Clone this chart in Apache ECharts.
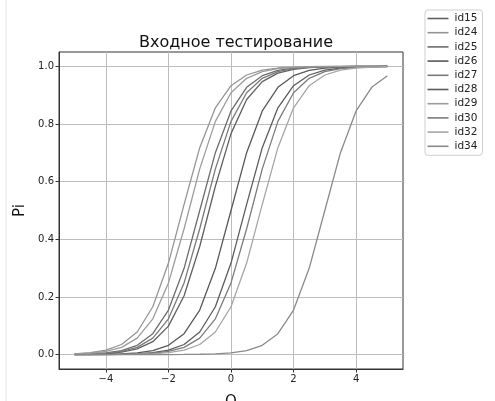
<!DOCTYPE html>
<html>
<head>
<meta charset="utf-8">
<script src="https://cdn.jsdelivr.net/npm/echarts@6/dist/echarts.min.js"></script>
<style>
html,body{margin:0;padding:0;background:#fff;}
#c{width:495px;height:401px;}
</style>
</head>
<body>
<div id="c"></div>
<script>
const theta = [-5,-4.5,-4,-3.5,-3,-2.5,-2,-1.5,-1,-0.5,0,0.5,1,1.5,2,2.5,3,3.5,4,4.5,5];
const seriesNames = ['id15','id24','id25','id26','id27','id28','id29','id30','id32','id34'];
const id15 = [0.0007,0.0016,0.0036,0.0085,0.0196,0.0448,0.0989,0.2043,0.3752,0.5842,0.7667,0.8850,0.9473,0.9768,0.9900,0.9957,0.9981,0.9992,0.9997,0.9999,1.0];
const id24 = [0.0028,0.0066,0.0153,0.0350,0.0783,0.1659,0.3176,0.5212,0.7181,0.8563,0.9331,0.9702,0.9871,0.9944,0.9976,0.9990,0.9996,0.9998,0.9999,1.0,1.0];
const id25 = [0.0011,0.0026,0.0061,0.0141,0.0323,0.0724,0.1545,0.2994,0.5,0.7006,0.8455,0.9276,0.9677,0.9859,0.9939,0.9974,0.9989,0.9995,0.9998,0.9999,1.0];
const id26 = [0.0002,0.0005,0.0011,0.0026,0.0061,0.0141,0.0323,0.0724,0.1545,0.2994,0.5,0.7006,0.8455,0.9276,0.9677,0.9859,0.9939,0.9974,0.9989,0.9995,0.9998];
const id27 = [0.0009,0.0020,0.0047,0.0109,0.0252,0.0570,0.1240,0.2488,0.4366,0.6445,0.8093,0.9084,0.9587,0.9819,0.9922,0.9967,0.9986,0.9994,0.9997,0.9999,1.0];
const id28 = [0.0001,0.0002,0.0005,0.0012,0.0028,0.0066,0.0153,0.0350,0.0783,0.1659,0.3176,0.5212,0.7181,0.8563,0.9331,0.9702,0.9871,0.9944,0.9976,0.9990,0.9996];
const id29 = [0.0020,0.0047,0.0109,0.0252,0.0570,0.1240,0.2488,0.4366,0.6445,0.8093,0.9084,0.9587,0.9819,0.9922,0.9967,0.9986,0.9994,0.9997,0.9999,1.0,1.0];
const id30 = [0.0001,0.0002,0.0004,0.0009,0.0020,0.0047,0.0109,0.0252,0.0570,0.1240,0.2488,0.4366,0.6445,0.8093,0.9084,0.9587,0.9819,0.9922,0.9967,0.9986,0.9994];
const id32 = [0.0,0.0001,0.0002,0.0005,0.0012,0.0028,0.0066,0.0153,0.0350,0.0783,0.1659,0.3176,0.5212,0.7181,0.8563,0.9331,0.9702,0.9871,0.9944,0.9976,0.9990];
const id34 = [0.0,0.0,0.0,0.0,0.0,0.0001,0.0002,0.0005,0.0011,0.0026,0.0061,0.0141,0.0323,0.0724,0.1545,0.2994,0.5,0.7006,0.8455,0.9276,0.9677];
const xTicks = [-4,-2,0,2,4];
const yTicks = [0,0.2,0.4,0.6,0.8,1.0];

const values = [id15,id24,id25,id26,id27,id28,id29,id30,id32,id34];
const colors = ['#606060','#959595','#6c6c6c','#585858','#7a7a7a','#5c5c5c','#9c9c9c','#7c7c7c','#a6a6a6','#8a8a8a'];

const chart = echarts.init(document.getElementById('c'), null, {renderer:'canvas'});
const fmtMinus = v => String(v).replace('-', '\u2212');
chart.setOption({
  animation: false,
  backgroundColor: '#fff',
  title: {
    text: 'Входное тестирование',
    left: 231, top: 30, textAlign: 'center',
    textStyle: {fontFamily: 'DejaVu Sans', fontSize: 16, fontWeight: 'normal', color: '#111'}
  },
  legend: {
    orient: 'vertical', left: 425, top: 10,
    data: seriesNames,
    icon: 'rect', itemWidth: 21, itemHeight: 1.6, itemGap: 0.2,
    padding: [1.5, 5, 2, 2.5],
    borderColor: '#cfcfcf', borderWidth: 1, borderRadius: 3, backgroundColor: '#fff',
    textStyle: {fontFamily: 'DejaVu Sans', fontSize: 10.5, color: '#222', lineHeight: 14, padding: [0,0,0,1]}
  },
  grid: {left: 59, right: 92, top: 52, bottom: 32, show: true, borderColor: '#333', borderWidth: 1, containLabel: false, outerBoundsMode: 'none'},
  xAxis: {
    type: 'value', min: -5.5, max: 5.5,
    name: 'O', nameLocation: 'middle', nameGap: 26,
    nameTextStyle: {fontFamily: 'DejaVu Sans', fontSize: 15, color: '#111'},
    axisLine: {show: true, onZero: false, lineStyle: {color: '#333'}},
    axisTick: {show: true, customValues: xTicks, length: 3.5, lineStyle: {color: '#333'}},
    axisLabel: {customValues: xTicks, formatter: fmtMinus, fontFamily: 'DejaVu Sans', fontSize: 10, color: '#222', margin: 5},
    splitLine: {show: true, lineStyle: {color: '#bdbdbd', width: 1}}
  },
  yAxis: {
    type: 'value', min: -0.05, max: 1.05,
    name: 'Pi', nameLocation: 'middle', nameGap: 27,
    nameTextStyle: {fontFamily: 'DejaVu Sans', fontSize: 15, color: '#111'},
    axisLine: {show: true, onZero: false, lineStyle: {color: '#333'}},
    axisTick: {show: true, customValues: yTicks, length: 3.5, lineStyle: {color: '#333'}},
    axisLabel: {customValues: yTicks, formatter: v => v.toFixed(1), fontFamily: 'DejaVu Sans', fontSize: 10, color: '#222', margin: 5},
    splitLine: {show: true, lineStyle: {color: '#bdbdbd', width: 1}}
  },
  graphic: [{type: 'line', shape: {x1: 6, y1: 0, x2: 6, y2: 401}, style: {stroke: '#e2e2e2', lineWidth: 1}}],
  series: seriesNames.map((n, i) => ({
    name: n, type: 'line', showSymbol: false, symbol: 'none', smooth: false,
    data: theta.map((t, j) => [t, values[i][j]]),
    lineStyle: {color: colors[i], width: 1.3},
    itemStyle: {color: colors[i]}
  }))
});
</script>
</body>
</html>
